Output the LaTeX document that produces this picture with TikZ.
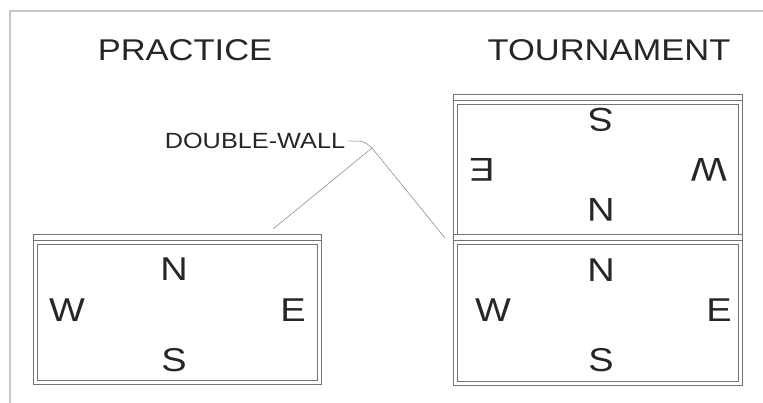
\documentclass[tikz,border=0pt]{standalone}
\usepackage{fontspec}
\newfontfamily\planfont[FakeStretch=1.15]{Liberation Sans}
\usetikzlibrary{calc}

\begin{document}
\begin{tikzpicture}[
	x=1pt, y=-1pt,
	frameline/.style={black!22, line width=1.2pt},
	wall/.style={black!55, line width=0.6pt},
	leader/.style={black!50, line width=0.5pt},
	title/.style={text=black!85, font=\planfont\fontsize{30}{30}\selectfont, inner sep=0pt},
	compass/.style={text=black!85, font=\planfont\fontsize{33}{33}\selectfont, inner sep=0pt},
	callout/.style={text=black!85, font=\planfont\fontsize{22}{22}\selectfont, inner sep=0pt},
]
\useasboundingbox (0,0) rectangle (763,403);

% sheet border
\draw[frameline] (10,403) -- (10,11) -- (763,11);

% practice room
\draw[wall] (33,234) rectangle (321,384);
\draw[wall] (33,240) -- (321,240);
\draw[wall] (37,244) rectangle (317,380);

% tournament rooms (two, back to back)
\draw[wall] (453,94) rectangle (742,385);
\draw[wall] (453,100) -- (742,100);
\draw[wall] (457,104) rectangle (738,234);
\draw[wall] (453,234) -- (742,234);
\draw[wall] (453,240) -- (742,240);
\draw[wall] (457,244) rectangle (738,381);

% titles
\node[title] (practice) at (185,50) {PRACTICE};
\node[title] (tournament) at (609,50) {TOURNAMENT};

% compass, practice
\node[compass] (pN) at (174,269) {N};
\node[compass] (pS) at (174,360) {S};
\node[compass] (pW) at (67,310) {W};
\node[compass] (pE) at (293,310) {E};

% compass, tournament lower
\node[compass] (tN) at (601,270) {N};
\node[compass] (tS) at (601,360) {S};
\node[compass] (tW) at (493,310) {W};
\node[compass] (tE) at (719,310) {E};

% compass, tournament upper (turned round)
\node[compass, rotate=180] (uS) at (601,120) {S};
\node[compass, rotate=180] (uN) at (601,210) {N};
\node[compass, rotate=180] (uE) at (482,170) {E};
\node[compass, rotate=180] (uW) at (709,170) {W};

% double-wall callout
\node[callout] (dwall) at (255,141) {DOUBLE-WALL};
\coordinate (kink) at (372,148);
\coordinate (pwall) at (273,229);
\coordinate (twall) at (445,238);
\draw[leader] ($(dwall.east)+(3,0)$) .. controls (364,141) .. (kink);
\draw[leader] (kink) -- (pwall);
\draw[leader] (kink) -- (twall);

\end{tikzpicture}
\end{document}
